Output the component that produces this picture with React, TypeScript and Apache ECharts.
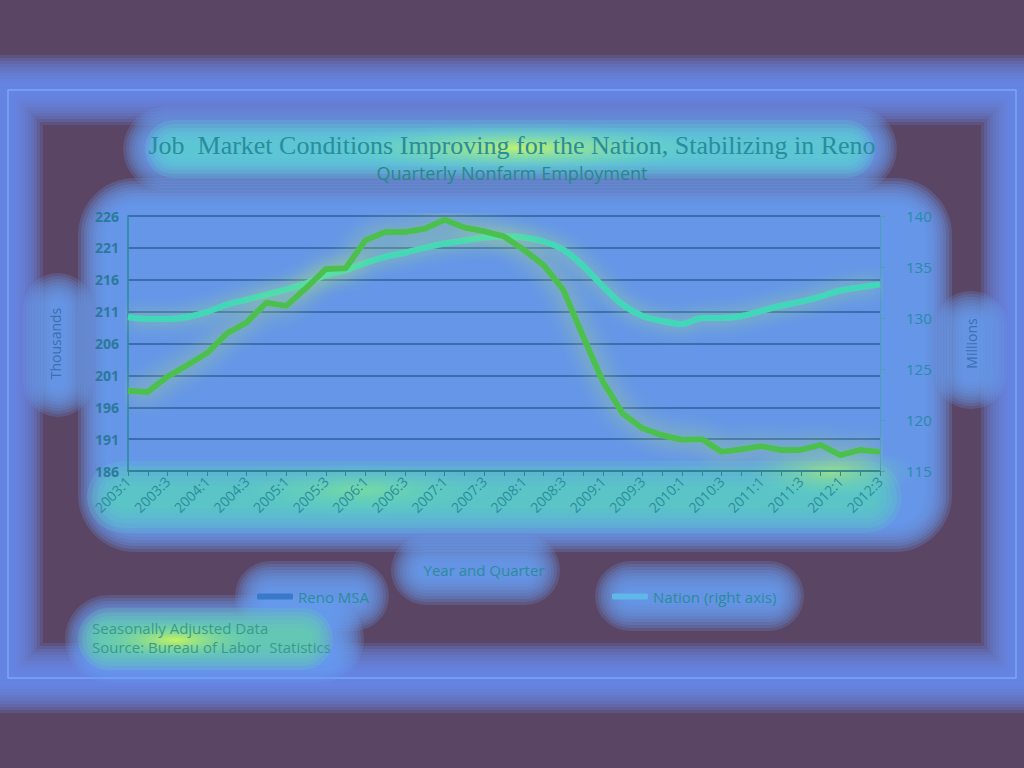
import React, { useEffect, useRef } from "react";
import * as echarts from "echarts";

const categories: string[] = [];
const years = [2003, 2004, 2005, 2006, 2007, 2008, 2009, 2010, 2011, 2012];
for (const y of years) {
  for (let q = 1; q <= 4; q++) {
    if (y === 2012 && q > 3) break;
    categories.push(`${y}:${q}`);
  }
}

const renoMSA = [
  198.6, 198.4, 200.8, 202.6, 204.5, 207.6, 209.3, 212.4, 211.9, 214.7,
  217.7, 217.8, 222.2, 223.5, 223.5, 224.0, 225.4, 224.2, 223.6, 222.8,
  220.7, 218.3, 214.4, 207.1, 200.0, 195.0, 192.7, 191.6, 190.9, 191.0,
  189.0, 189.4, 189.9, 189.3, 189.3, 190.1, 188.5, 189.3, 189.0,
];

const nation = [
  130.1, 129.9, 129.9, 130.1, 130.6, 131.3, 131.8, 132.3, 132.8, 133.4,
  134.2, 134.7, 135.4, 136.0, 136.4, 136.9, 137.3, 137.6, 137.9, 138.0,
  137.9, 137.5, 136.7, 135.1, 133.1, 131.3, 130.2, 129.7, 129.4, 130.0,
  130.0, 130.2, 130.7, 131.2, 131.6, 132.1, 132.7, 133.0, 133.3,
];

const TEXT = "#2a8c9c";

export default function App() {
  const ref = useRef<HTMLDivElement>(null);
  useEffect(() => {
    if (!ref.current) return;
    const chart = echarts.init(ref.current, null, { renderer: "svg" });
    const soft = (
      x: number, y: number, w: number, h: number,
      rgb: string, a: number, layers: number, step: number, r: number
    ) => {
      const out: any[] = [];
      for (let i = layers - 1; i >= 0; i--) {
        const e = i * step;
        out.push({
          type: "rect",
          silent: true,
          z: -5,
          shape: { x: x - e, y: y - e, width: w + 2 * e, height: h + 2 * e, r: r + e },
          style: { fill: `rgba(${rgb},${a})` },
        });
      }
      return out;
    };
    const frameBand: any[] = [];
    for (let i = 0; i < 10; i++) {
      frameBand.push({
        type: "rect",
        silent: true,
        z: -6,
        shape: { x: 8, y: 90, width: 1008, height: 588 },
        style: { fill: "none", stroke: "rgba(106,140,240,0.2)", lineWidth: 70 - i * 6 },
      });
    }
    const glow = (cx: number, cy: number, rx: number, ry: number, color: string, edge: string) => ({
      type: "ellipse",
      silent: true,
      z: -4,
      shape: { cx, cy, rx, ry },
      style: {
        fill: new echarts.graphic.RadialGradient(0.5, 0.5, 0.5, [
          { offset: 0, color },
          { offset: 1, color: edge },
        ]),
      },
    });
    const BL = "106,158,245";
    chart.setOption({
      animation: false,
      backgroundColor: "#5b4565",
      graphic: [
        ...frameBand,
        {
          type: "rect",
          silent: true,
          z: -5,
          shape: { x: 8, y: 90, width: 1008, height: 588 },
          style: { fill: "none", stroke: "#78a8f6", lineWidth: 1.5 },
        },
        ...soft(150, 134, 720, 30, BL, 0.2, 10, 3, 15),
        ...soft(105, 205, 820, 320, BL, 0.22, 10, 3, 30),
        ...soft(50, 300, 16, 90, BL, 0.2, 10, 3, 8),
        ...soft(962, 318, 18, 64, BL, 0.2, 10, 3, 8),
        ...soft(418, 562, 115, 16, BL, 0.2, 10, 3, 8),
        ...soft(262, 588, 100, 16, BL, 0.2, 10, 3, 8),
        ...soft(622, 588, 155, 16, BL, 0.2, 10, 3, 8),
        ...soft(92, 622, 245, 34, BL, 0.2, 10, 3, 17),
        ...soft(165, 140, 690, 18, "90,214,208", 0.22, 6, 4, 9),
        ...soft(112, 486, 765, 22, "90,216,190", 0.2, 6, 5, 11),
        ...soft(98, 628, 215, 22, "98,216,168", 0.22, 6, 4, 11),
        glow(520, 148, 200, 24, "rgba(210,250,90,0.85)", "rgba(90,214,208,0)"),
        glow(175, 640, 85, 20, "rgba(215,250,80,0.85)", "rgba(98,216,168,0)"),
        glow(830, 472, 90, 26, "rgba(190,250,90,0.6)", "rgba(90,216,192,0)"),
        glow(360, 490, 130, 26, "rgba(150,245,120,0.45)", "rgba(90,216,192,0)"),
        {
          type: "text",
          left: "center",
          top: 132,
          z: 10,
          style: {
            text: "Job  Market Conditions Improving for the Nation, Stabilizing in Reno",
            fill: TEXT,
            font: "26px 'Liberation Serif', serif",
          },
        },
        {
          type: "text",
          left: "center",
          top: 164,
          z: 10,
          style: {
            text: "Quarterly Nonfarm Employment",
            fill: "#248a88",
            font: "18px 'Open Sans', sans-serif",
          },
        },
        {
          type: "text",
          x: 92,
          y: 620,
          z: 10,
          style: {
            text: "Seasonally Adjusted Data",
            fill: "#3a9a8a",
            font: "15px 'Open Sans', sans-serif",
          },
        },
        {
          type: "text",
          x: 92,
          y: 639,
          z: 10,
          style: {
            text: "Source: Bureau of Labor  Statistics",
            fill: "#3a9a8a",
            font: "15px 'Open Sans', sans-serif",
          },
        },
      ],
      grid: {
        left: 128,
        right: 144,
        top: 216,
        bottom: 297,
        outerBoundsMode: "none",
        containLabel: false,
      },
      legend: [
        {
          data: ["Reno MSA"],
          left: 252,
          top: 584,
          icon: "roundRect",
          itemWidth: 36,
          itemHeight: 6,
          itemGap: 2,
          textStyle: { color: TEXT, fontSize: 15, fontFamily: "'Open Sans', sans-serif" },
        },
        {
          data: ["Nation (right axis)"],
          left: 607,
          top: 584,
          icon: "roundRect",
          itemWidth: 36,
          itemHeight: 6,
          textStyle: { color: TEXT, fontSize: 15, fontFamily: "'Open Sans', sans-serif" },
        },
      ],
      xAxis: {
        type: "category",
        data: categories,
        boundaryGap: false,
        name: "Year and Quarter",
        nameLocation: "middle",
        nameGap: 91,
        nameTextStyle: {
          color: TEXT,
          fontSize: 15,
          fontFamily: "'Open Sans', sans-serif",
          padding: [0, 40, 0, 0],
        },
        axisLine: { lineStyle: { color: "#2a8a8a", width: 1.5 } },
        axisTick: { interval: 0, length: 5, lineStyle: { color: "#2a8a8a" } },
        axisLabel: {
          interval: 1,
          rotate: 45,
          color: TEXT,
          fontSize: 14,
          fontFamily: "'Open Sans', sans-serif",
          margin: 8,
        },
        splitLine: { show: false },
      },
      yAxis: [
        {
          type: "value",
          min: 186,
          max: 226,
          interval: 5,
          name: "Thousands",
          nameLocation: "middle",
          nameGap: 66,
          nameTextStyle: { color: "#3a70b0", fontSize: 14, fontFamily: "'Open Sans', sans-serif" },
          axisLine: { show: true, lineStyle: { color: "#2a8a9a", width: 1.5 } },
          axisTick: { show: false },
          axisLabel: {
            color: "#2a7a9a",
            fontSize: 14,
            fontWeight: "bold",
            fontFamily: "'Open Sans', sans-serif",
            margin: 9,
          },
          splitLine: { show: true, lineStyle: { color: "#2e5e9a", width: 1.5 } },
        },
        {
          type: "value",
          min: 115,
          max: 140,
          interval: 5,
          name: "Millions",
          nameLocation: "middle",
          nameGap: 84,
          nameRotate: 90,
          nameTextStyle: { color: "#3a70b0", fontSize: 14, fontFamily: "'Open Sans', sans-serif" },
          axisLine: { show: true, lineStyle: { color: "#4aa0b8", width: 1 } },
          axisTick: { show: true, length: 5, lineStyle: { color: "#4aa0b8" } },
          axisLabel: {
            color: "#2a8aaa",
            fontSize: 15,
            fontFamily: "'Open Sans', sans-serif",
            margin: 26,
          },
          splitLine: { show: false },
        },
      ],
      series: [
        {
          name: "Nation (right axis)",
          type: "line",
          yAxisIndex: 1,
          data: nation,
          symbol: "none",
          smooth: 0.3,
          itemStyle: { color: "#5fb8e8" },
          lineStyle: {
            color: "#40d8b8",
            width: 6,
            shadowColor: "rgba(180,250,100,0.7)",
            shadowBlur: 18,
          },
          z: 3,
        },
        {
          name: "Reno MSA",
          type: "line",
          yAxisIndex: 0,
          data: renoMSA,
          symbol: "none",
          itemStyle: { color: "#3a78c8" },
          lineStyle: {
            color: "#4cc050",
            width: 6,
            shadowColor: "rgba(200,250,80,0.8)",
            shadowBlur: 22,
          },
          z: 4,
        },
      ],
    });
    return () => chart.dispose();
  }, []);
  return (
    <div
      ref={ref}
      style={{ position: "fixed", left: 0, top: 0, width: 1024, height: 768 }}
    />
  );
}
